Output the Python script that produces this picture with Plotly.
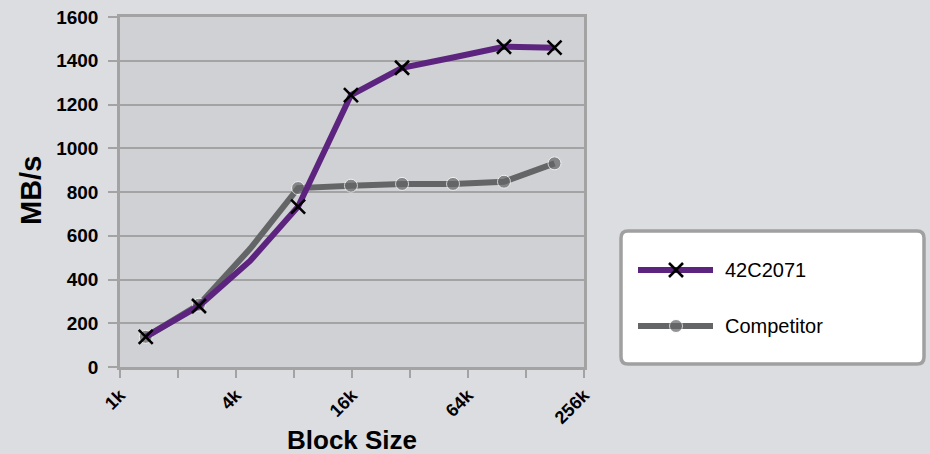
import plotly.graph_objects as go

# ---- data ----
block_size_k = [1.36, 2.57, 4.73, 8.4, 15.8, 29.1, 53.5, 98.4, 180]
mbps_42c2071 = [138, 279, 485, 733, 1243, 1368, 1415, 1464, 1460]
mbps_competitor = [138, 285, 540, 818, 829, 837, 837, 847, 931]
marked_42c2071 = [1, 1, 0, 1, 1, 1, 0, 1, 1]
marked_competitor = [1, 1, 0, 1, 1, 1, 1, 1, 1]
series_names = ["42C2071", "Competitor"]
x_tickvals = [1, 2, 4, 8, 16, 32, 64, 128, 256]
x_ticktext = ["1k", "", "4k", "", "16k", "", "64k", "", "256k"]
y_tickvals = [0, 200, 400, 600, 800, 1000, 1200, 1400, 1600]

W, H = 930, 454
PURPLE = "#5d247f"
GRAY = "#646567"
GRID = "#a3a3a3"
PAPER = "#dcdde0"
PLOTBG = "#d0d1d4"
FONT = "Liberation Sans, Arial, Helvetica, sans-serif"

# plot area in pixels
L, R, T, B = 120, 584, 17, 367

def px(x):
    return x / W

def py(y):
    return 1 - y / H

fig = go.Figure()

fig.add_trace(go.Scatter(
    x=block_size_k, y=mbps_competitor, mode="lines+markers",
    line=dict(color=GRAY, width=6),
    marker=dict(symbol="circle", color=GRAY,
                size=[13 if m else 0 for m in marked_competitor]),
    showlegend=False, xaxis="x", yaxis="y", cliponaxis=False))

fig.add_trace(go.Scatter(
    x=block_size_k, y=mbps_42c2071, mode="lines",
    line=dict(color=PURPLE, width=6),
    showlegend=False, xaxis="x", yaxis="y", cliponaxis=False))

fig.add_trace(go.Scatter(
    x=[x for x, m in zip(block_size_k, marked_42c2071) if m],
    y=[y for y, m in zip(mbps_42c2071, marked_42c2071) if m],
    mode="markers",
    marker=dict(symbol="x-thin", size=14, line=dict(color="black", width=2.6)),
    showlegend=False, xaxis="x", yaxis="y", cliponaxis=False))

# ---- custom legend (pixel-coordinate helper axes) ----
LX0, LX1, LY0, LY1 = 610, 930, 222, 374
leg_y = [270, 326]
fig.add_trace(go.Scatter(
    x=[638, 713], y=[leg_y[0]] * 2, mode="lines",
    line=dict(color=PURPLE, width=6), showlegend=False,
    xaxis="x2", yaxis="y2", hoverinfo="skip"))
fig.add_trace(go.Scatter(
    x=[676], y=[leg_y[0]], mode="markers",
    marker=dict(symbol="x-thin", size=14, line=dict(color="black", width=2.6)),
    showlegend=False, xaxis="x2", yaxis="y2", hoverinfo="skip"))
fig.add_trace(go.Scatter(
    x=[638, 676, 713], y=[leg_y[1]] * 3, mode="lines+markers",
    line=dict(color=GRAY, width=6),
    marker=dict(symbol="circle", color=GRAY, size=[0, 13, 0]),
    showlegend=False, xaxis="x2", yaxis="y2", hoverinfo="skip"))

bx0, bx1, by0, by1, r = 621, 924, 231, 364, 7
path = (f"M{bx0+r},{by0} L{bx1-r},{by0} Q{bx1},{by0} {bx1},{by0+r} "
        f"L{bx1},{by1-r} Q{bx1},{by1} {bx1-r},{by1} L{bx0+r},{by1} "
        f"Q{bx0},{by1} {bx0},{by1-r} L{bx0},{by0+r} Q{bx0},{by0} {bx0+r},{by0} Z")

shapes = [
    dict(type="rect", xref="x domain", yref="y domain", x0=0, x1=1, y0=0, y1=1,
         fillcolor=PLOTBG, line=dict(width=0), layer="below"),
    dict(type="path", path=path, xref="x2", yref="y2",
         fillcolor="white", line=dict(color="#a0a0a0", width=3.5),
         layer="below"),
]

annotations = [
    dict(text=series_names[0], x=723, y=leg_y[0], xref="x2", yref="y2",
         xanchor="left", yanchor="middle", showarrow=False,
         font=dict(family=FONT, size=20, color="black")),
    dict(text=series_names[1], x=723, y=leg_y[1], xref="x2", yref="y2",
         xanchor="left", yanchor="middle", showarrow=False,
         font=dict(family=FONT, size=20, color="black")),
    dict(text="Block Size", x=px(352), y=py(439.5), xref="paper", yref="paper",
         xanchor="center", yanchor="middle", showarrow=False,
         font=dict(family=FONT, size=26, color="black", weight="bold")),
    dict(text="MB/s", x=px(31), y=py(191), xref="paper", yref="paper",
         xanchor="center", yanchor="middle", showarrow=False, textangle=-90,
         font=dict(family=FONT, size=29, color="black", weight="bold")),
]

fig.update_layout(
    width=W, height=H,
    margin=dict(l=0, r=0, t=0, b=0),
    paper_bgcolor=PAPER,
    plot_bgcolor=PAPER,
    showlegend=False,
    shapes=shapes,
    annotations=annotations,
    xaxis=dict(
        type="log", domain=[px(L), px(R)],
        range=[0, 8 * 0.30103], anchor="y",
        tickvals=x_tickvals, ticktext=x_ticktext, tickangle=-45,
        ticks="outside", ticklen=8, tickwidth=2, tickcolor=GRID,
        showgrid=False, zeroline=False,
        showline=True, linecolor=GRID, linewidth=2.5, mirror=True,
        tickfont=dict(family=FONT, size=18, color="black", weight="bold"),
        automargin=False, fixedrange=True,
    ),
    yaxis=dict(
        domain=[py(B), py(T)], range=[0, 1600], anchor="x",
        tickvals=y_tickvals,
        ticks="outside", ticklen=9, tickwidth=2, tickcolor=GRID,
        showgrid=True, gridcolor=GRID, gridwidth=2, zeroline=False,
        showline=True, linecolor=GRID, linewidth=2.5, mirror=True,
        tickfont=dict(family=FONT, size=19, color="black", weight="bold"),
        ticklabelstandoff=6,
        automargin=False, fixedrange=True,
    ),
    xaxis2=dict(domain=[px(LX0), px(LX1)], range=[LX0, LX1], anchor="y2",
                visible=False, fixedrange=True),
    yaxis2=dict(domain=[py(LY1), py(LY0)], range=[LY1, LY0], anchor="x2",
                visible=False, fixedrange=True),
)

fig.write_html("out.html", config={"displayModeBar": False},
               post_script="document.body.style.margin='0';"
                           "document.body.style.overflow='hidden';")
